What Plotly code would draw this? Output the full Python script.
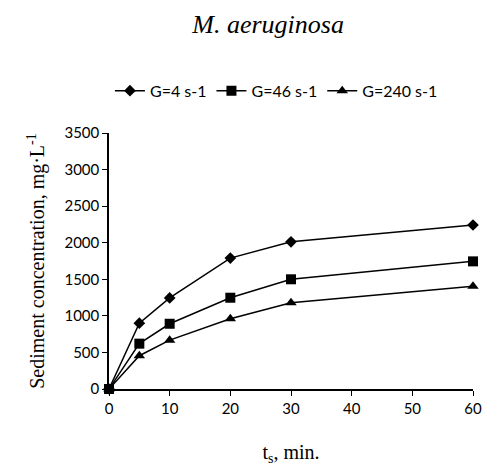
import plotly.graph_objects as go

time_min = [0, 5, 10, 20, 30, 60]
g4 = [0, 900, 1245, 1790, 2012, 2242]
g46 = [0, 620, 892, 1248, 1500, 1745]
g240 = [0, 455, 668, 960, 1178, 1405]
series_names = ["G=4 s-1", "G=46 s-1", "G=240 s-1"]
symbols = ["diamond", "square", "triangle-up"]
sizes = [9, 10, 10]

fig = go.Figure()
for name, vals, sym, sz in zip(series_names, [g4, g46, g240], symbols, sizes):
    fig.add_trace(go.Scatter(
        x=time_min, y=vals, name=name, mode="lines+markers",
        line=dict(color="black", width=1.5),
        marker=dict(symbol=sym, size=sz, color="black"),
        cliponaxis=False,
    ))

fig.update_layout(
    width=492, height=466,
    margin=dict(l=109, r=19, t=133, b=77, autoexpand=False),
    paper_bgcolor="white", plot_bgcolor="white",
    title=dict(text="<i>M. aeruginosa</i>", x=0.545, xanchor="center", y=0.948, yanchor="middle",
               font=dict(family="Liberation Serif", size=26, color="black")),
    legend=dict(orientation="h", x=0.46, xanchor="center", y=1.165, yanchor="middle",
                font=dict(family="Lato", size=16, color="black"),
                itemwidth=30, tracegroupgap=0),
    showlegend=True,
)
fig.update_xaxes(
    range=[0, 60], tickvals=[0, 10, 20, 30, 40, 50, 60], automargin=False,
    showline=True, linecolor="black", linewidth=1.5, mirror=False,
    ticks="outside", ticklen=5, tickcolor="black", showgrid=False, zeroline=False,
    tickfont=dict(family="Lato", size=15, color="black"),
    title=dict(text="t<sub>s</sub>, min.", font=dict(family="Liberation Serif", size=20, color="black"), standoff=30),
)
fig.update_yaxes(
    range=[0, 3500], tickvals=[0, 500, 1000, 1500, 2000, 2500, 3000, 3500], automargin=False,
    showline=True, linecolor="black", linewidth=1.5,
    ticks="outside", ticklen=5, tickcolor="black", showgrid=False, zeroline=False,
    tickfont=dict(family="Lato", size=15, color="black"),
    title=dict(text="Sediment concentration, mg·L<sup>-1</sup>", font=dict(family="Liberation Serif", size=20, color="black"), standoff=14),
)
fig.write_html("out.html")
